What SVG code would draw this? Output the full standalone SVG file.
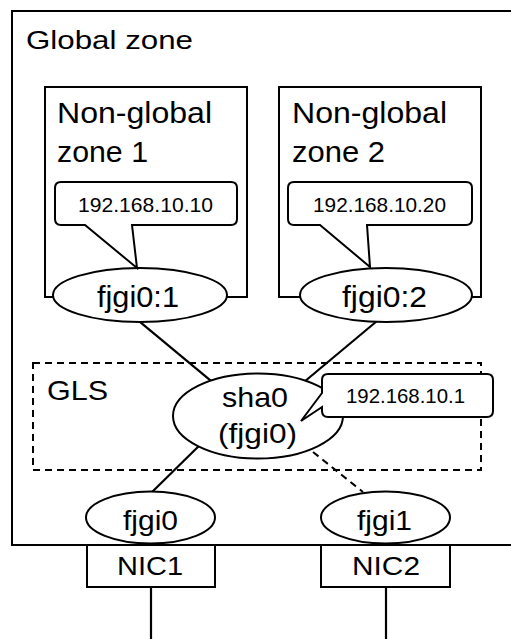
<svg xmlns="http://www.w3.org/2000/svg" width="511" height="639" viewBox="0 0 511 639">
<style>
.box{fill:#fff;stroke:#000;stroke-width:2}
.nb{fill:none;stroke:#000;stroke-width:2}
.dash{fill:none;stroke:#000;stroke-width:2;stroke-dasharray:7 5}
.ell{fill:#fff;stroke:#000;stroke-width:2}
.line{stroke:#000;stroke-width:2.2;fill:none}
.dline{stroke:#000;stroke-width:2;fill:none;stroke-dasharray:7 5}
text{font-family:"Liberation Sans",Arial,sans-serif;fill:#000}
.big{font-size:30px}
.mid{font-size:28px}
.ip{font-size:21px}
</style>
<rect width="511" height="639" fill="#fff"/>
<g id="global-zone">
<rect class="nb" x="12" y="11" width="520" height="534"/>
<text x="26" y="49" style="font-size:26px" textLength="167" lengthAdjust="spacingAndGlyphs">Global zone</text>
</g>
<g id="ngz1">
<rect class="box" x="45" y="87" width="202" height="210"/>
<text class="big" x="57" y="123" textLength="155" lengthAdjust="spacingAndGlyphs">Non-global</text>
<text class="big" x="57" y="162" textLength="91" lengthAdjust="spacingAndGlyphs">zone 1</text>
</g>
<g id="ngz2">
<rect class="box" x="279" y="87" width="202" height="210"/>
<text class="big" x="292" y="123" textLength="155" lengthAdjust="spacingAndGlyphs">Non-global</text>
<text class="big" x="292" y="162" textLength="93" lengthAdjust="spacingAndGlyphs">zone 2</text>
</g>
<g id="gls">
<rect class="dash" x="33" y="363" width="448" height="107"/>
<text class="mid" x="47" y="400" textLength="61" lengthAdjust="spacingAndGlyphs">GLS</text>
</g>
<g id="connectors">
<line class="line" x1="136" y1="318.6" x2="214" y2="383.3"/>
<line class="line" x1="380" y1="318.5" x2="301" y2="384.5"/>
<line class="line" x1="206" y1="439" x2="149" y2="495"/>
<line class="dline" x1="313" y1="452" x2="363" y2="492"/>
<line class="line" x1="151" y1="587" x2="151" y2="639"/>
<line class="line" x1="386" y1="587" x2="386" y2="639"/>
</g>
<g id="fjgi0-1">
<ellipse class="ell" cx="140" cy="295" rx="87" ry="27"/>
<text x="97" y="307" style="font-size:30px" textLength="82" lengthAdjust="spacingAndGlyphs">fjgi0:1</text>
</g>
<g id="fjgi0-2">
<ellipse class="ell" cx="386" cy="295" rx="86" ry="27"/>
<text x="342" y="307" style="font-size:30px" textLength="85" lengthAdjust="spacingAndGlyphs">fjgi0:2</text>
</g>
<g id="callout1">
<path class="box" d="M61,182 H231 Q237,182 237,188 V219 Q237,225 231,225 H132 L137,268 L85,225 H61 Q55,225 55,219 V188 Q55,182 61,182 Z"/>
<text class="ip" x="78" y="212" textLength="135" lengthAdjust="spacingAndGlyphs">192.168.10.10</text>
</g>
<g id="callout2">
<path class="box" d="M294,182 H466 Q472,182 472,188 V219 Q472,225 466,225 H367 L370,267 L320,225 H294 Q288,225 288,219 V188 Q288,182 294,182 Z"/>
<text class="ip" x="313" y="212" textLength="133" lengthAdjust="spacingAndGlyphs">192.168.10.20</text>
</g>
<g id="sha0">
<ellipse class="ell" cx="258" cy="416" rx="85" ry="42.5"/>
<text class="mid" x="222" y="407" textLength="66" lengthAdjust="spacingAndGlyphs">sha0</text>
<text class="mid" x="218" y="443" textLength="79" lengthAdjust="spacingAndGlyphs">(fjgi0)</text>
</g>
<g id="callout3">
<path class="box" d="M328,374 H487 Q493,374 493,380 V411 Q493,417 487,417 H328 Q322,417 322,411 V407 L301,421 L322,393 V380 Q322,374 328,374 Z"/>
<text class="ip" x="346" y="403" textLength="119" lengthAdjust="spacingAndGlyphs">192.168.10.1</text>
</g>
<g id="fjgi0">
<ellipse class="ell" cx="150.5" cy="517.5" rx="64.5" ry="26"/>
<text class="mid" x="123" y="530" textLength="55" lengthAdjust="spacingAndGlyphs">fjgi0</text>
</g>
<g id="fjgi1">
<ellipse class="ell" cx="385.5" cy="517.5" rx="64.5" ry="26"/>
<text class="mid" x="357" y="530" textLength="55" lengthAdjust="spacingAndGlyphs">fjgi1</text>
</g>
<g id="nic1">
<rect class="box" x="87" y="545" width="128" height="42"/>
<text x="117" y="575" style="font-size:26px" textLength="66" lengthAdjust="spacingAndGlyphs">NIC1</text>
</g>
<g id="nic2">
<rect class="box" x="321" y="545" width="129" height="42"/>
<text x="352" y="575" style="font-size:26px" textLength="68" lengthAdjust="spacingAndGlyphs">NIC2</text>
</g>
</svg>
